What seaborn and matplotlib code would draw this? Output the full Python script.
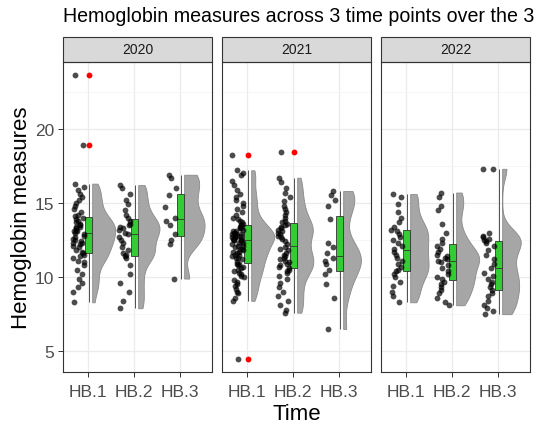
import numpy as np
import pandas as pd
import matplotlib
matplotlib.use("Agg")
import matplotlib.pyplot as plt
from matplotlib.patches import Rectangle
from matplotlib.ticker import MultipleLocator
import seaborn as sns

# Facets and time points
years = ["2020", "2021", "2022"]
times = ["HB.1", "HB.2", "HB.3"]

# Hemoglobin measurements per year and time point
hb1_2020 = [23.6, 18.9, 16.3, 16.1, 15.9, 15.6, 15.4, 15.2, 15.0, 14.8, 14.6, 14.4, 14.2,
            14.1, 14.0, 13.9, 13.8, 13.7, 13.6, 13.5, 13.4, 13.4, 13.3, 13.2, 13.1, 13.1,
            13.0, 12.9, 12.8, 12.7, 12.6, 12.5, 12.4, 12.3, 12.3, 12.2, 12.1, 12.0, 11.4,
            11.0, 11.8, 11.7, 11.6, 11.5, 11.3, 11.1, 10.8, 10.5, 10.2, 9.9, 9.6, 9.3, 9.0, 8.3]
hb2_2020 = [16.2, 16.0, 15.6, 15.2, 14.9, 14.5, 14.2, 14.0, 13.8, 13.6, 13.5, 13.4, 13.3,
            13.2, 13.0, 12.9, 12.7, 12.5, 12.3, 12.0, 11.8, 11.6, 11.5, 11.4, 11.3, 10.8,
            10.2, 9.6, 9.0, 8.4, 7.9]
hb3_2020 = [16.9, 16.7, 16.0, 15.5, 14.7, 14.0, 13.8, 13.5, 12.9, 12.5, 12.2, 9.9]

hb1_2021 = [18.2, 4.5, 17.2, 17.0, 16.9, 16.5, 16.2, 15.9, 15.6, 15.4, 15.2, 15.0, 14.8,
            14.6, 14.4, 14.2, 14.0, 13.9, 13.8, 13.7, 13.6, 13.5, 13.5, 13.4, 13.3, 13.3,
            13.2, 13.1, 13.1, 13.0, 13.0, 12.9, 12.9, 12.9, 12.8, 12.8, 12.7, 12.7, 12.7,
            12.6, 12.6, 12.5, 12.5, 12.5, 12.4, 12.3, 12.3, 12.2, 12.1, 12.1, 12.0, 11.9,
            11.9, 11.8, 11.7, 11.7, 11.6, 11.5, 11.5, 11.4, 11.3, 11.3, 11.2, 10.9, 11.0,
            10.9, 10.8, 10.7, 10.6, 10.5, 10.4, 10.3, 10.2, 10.1, 10.0, 9.8, 9.7, 9.5,
            9.4, 9.2, 9.0, 8.9, 8.6, 8.4]
hb2_2021 = [18.4, 16.7, 16.4, 16.0, 15.7, 15.4, 15.1, 14.8, 14.6, 14.4, 14.2, 14.0, 13.8,
            13.7, 13.6, 13.5, 13.4, 13.3, 13.2, 13.1, 13.0, 12.9, 12.8, 12.7, 12.6, 12.4,
            12.2, 12.0, 11.9, 11.8, 11.6, 11.5, 11.4, 11.3, 11.2, 11.1, 11.0, 10.9, 10.8,
            10.7, 10.6, 10.5, 10.4, 10.3, 10.1, 9.9, 9.6, 9.3, 9.0, 8.7, 8.4, 8.1, 7.8, 7.6]
hb3_2021 = [15.8, 15.5, 15.2, 14.8, 13.9, 12.3, 12.0, 11.6, 11.3, 11.1, 10.9, 10.5, 10.2,
            9.5, 8.6, 6.5]

hb1_2022 = [15.6, 15.4, 14.9, 14.4, 14.0, 13.7, 13.4, 13.2, 13.1, 12.9, 12.7, 12.5, 12.3,
            12.1, 11.9, 11.7, 11.5, 11.3, 11.1, 10.9, 10.7, 10.5, 10.4, 10.2, 10.0, 9.7,
            9.4, 9.0, 8.7, 8.3]
hb2_2022 = [15.7, 15.4, 14.8, 14.5, 13.6, 13.0, 12.6, 12.3, 12.1, 11.9, 11.7, 11.5, 11.4,
            11.3, 11.2, 11.1, 11.0, 10.8, 10.6, 10.4, 10.2, 10.0, 9.9, 9.7, 9.5, 9.3, 9.1,
            8.9, 8.6, 8.3, 8.1]
hb3_2022 = [17.3, 17.3, 13.0, 12.8, 12.7, 12.6, 12.5, 12.4, 12.3, 12.1, 11.8, 11.5, 11.2,
            10.9, 10.6, 10.3, 10.1, 9.9, 9.7, 9.5, 9.3, 9.1, 8.9, 8.7, 8.4, 8.1, 7.9, 7.7, 7.5]

series = {
    "2020": [hb1_2020, hb2_2020, hb3_2020],
    "2021": [hb1_2021, hb2_2021, hb3_2021],
    "2022": [hb1_2022, hb2_2022, hb3_2022],
}

rows = []
for yr in years:
    for slot, (t, vals) in enumerate(zip(times, series[yr])):
        for v in vals:
            rows.append({"year": yr, "time": t, "slot": slot, "hb": v})
df = pd.DataFrame(rows)
# every observation belongs to the right-hand half of a split violin
df["side"] = "right"


def within_fences(s):
    q1, q3 = np.percentile(s, [25, 75])
    iqr = q3 - q1
    return (s >= q1 - 1.5 * iqr) & (s <= q3 + 1.5 * iqr)


# the clouds are estimated without the boxplot outliers
df["inlier"] = df.groupby(["year", "time"])["hb"].transform(within_fences).astype(bool)

sns.set_theme(style="white")
plt.rcParams["font.family"] = ["Liberation Sans", "DejaVu Sans"]

W, H = 540, 427
fig, axes = plt.subplots(1, 3, figsize=(W / 100, H / 100), dpi=100, sharey=True)
fig.subplots_adjust(left=63 / W, right=530 / W, top=1 - 63 / H, bottom=1 - 373 / H,
                    wspace=0.067)

np.random.seed(5)
frame_col = "#333333"
cloud_col = "#A6A6A6"
cloud_w = 0.5        # widest cloud, in category units
cloud_base = 0.095   # flat edge of the cloud, right of the category centre

for ax, yr in zip(axes, years):
    sub = df[df["year"] == yr]
    cloud = sub[sub["inlier"]]

    # half violins ("clouds") to the right of each box; the split half is
    # anchored half a width left of its position, hence the shift
    sns.violinplot(data=cloud.assign(pos=cloud["slot"] + cloud_base + cloud_w / 2),
                   x="pos", y="hb", hue="side", hue_order=["left", "right"],
                   palette={"left": cloud_col, "right": cloud_col},
                   native_scale=True, orient="x", split=True, dodge=False,
                   inner=None, cut=0, bw_adjust=0.55, width=cloud_w, saturation=1,
                   linecolor="#8A8A8A", linewidth=0.6, legend=False, ax=ax)

    # narrow boxplots with red outliers
    sns.boxplot(data=sub.assign(pos=sub["slot"] + 0.02), x="pos", y="hb",
                native_scale=True, orient="x", width=0.15, color="#33CC33",
                saturation=1, linecolor=frame_col, linewidth=0.6, showcaps=False,
                flierprops=dict(marker="o", markerfacecolor="red",
                                markeredgecolor="none", markersize=4.2),
                ax=ax)

    # jittered raw observations ("rain")
    sns.stripplot(data=sub.assign(pos=sub["slot"] - 0.2), x="pos", y="hb",
                  native_scale=True, orient="x", jitter=0.13, color="black",
                  alpha=0.7, size=4.2, linewidth=0, ax=ax)

    ax.set_xlim(-0.54, 2.70)
    ax.set_ylim(3.6, 24.5)
    ax.set_xticks(range(len(times)))
    ax.set_xticklabels(times)
    ax.yaxis.set_major_locator(MultipleLocator(5))
    ax.yaxis.set_minor_locator(MultipleLocator(2.5))
    ax.grid(True, which="major", color="#EBEBEB", linewidth=0.9)
    ax.grid(True, which="minor", axis="y", color="#F3F3F3", linewidth=0.5)
    ax.set_axisbelow(True)
    ax.set_xlabel("")
    ax.set_ylabel("")
    for s in ax.spines.values():
        s.set_color(frame_col)
        s.set_linewidth(0.8)
    ax.tick_params(axis="x", which="major", length=3.5, width=0.7, color=frame_col,
                   pad=5, labelsize=12.5, labelcolor="#4D4D4D", bottom=True)
    ax.tick_params(axis="y", which="major", length=3.5, width=0.7, color=frame_col,
                   pad=3, labelsize=12.5, labelcolor="#4D4D4D", left=True)
    ax.tick_params(which="minor", length=0)

    # facet strip
    strip_h = 25 / 310
    ax.add_patch(Rectangle((0, 1), 1, strip_h, transform=ax.transAxes, clip_on=False,
                           facecolor="#D9D9D9", edgecolor=frame_col, linewidth=0.8))
    ax.text(0.5, 1 + strip_h / 2, yr, transform=ax.transAxes, ha="center",
            va="center", fontsize=10, color="#1A1A1A")

for ax in axes[1:]:
    ax.tick_params(axis="y", left=False, labelleft=False)

fig.text(63 / W, 1 - 22 / H, "Hemoglobin measures across 3 time points over the 3",
         ha="left", va="baseline", fontsize=14.1, color="black")
fig.text(22 / W, 1 - 218 / H, "Hemoglobin measures", rotation=90, ha="center",
         va="center", fontsize=16, color="black")
fig.text(296.5 / W, 1 - 420 / H, "Time", ha="center", va="baseline", fontsize=16,
         color="black")

fig.savefig("out.png", dpi=100)
